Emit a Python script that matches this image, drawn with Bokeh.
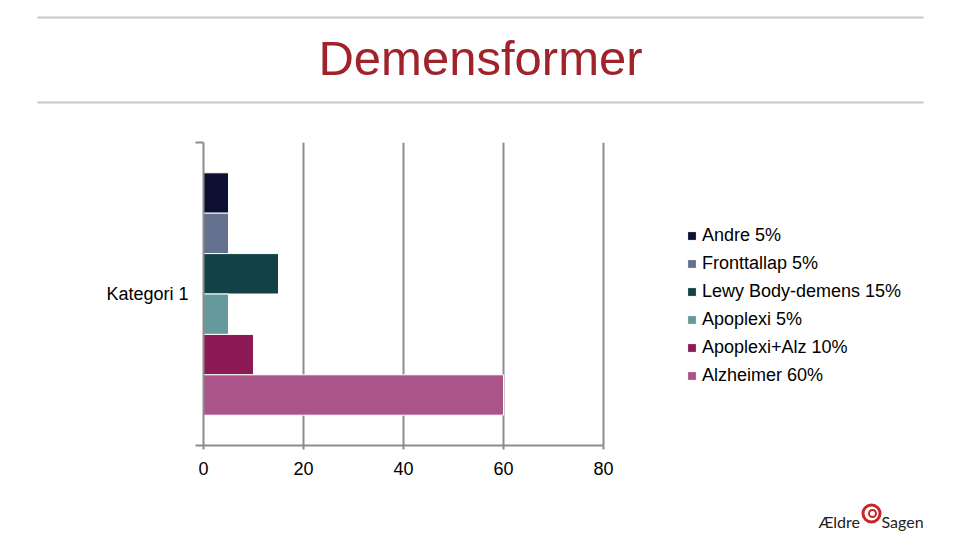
from bokeh.plotting import figure
from bokeh.models import Range1d, FixedTicker, Legend, LegendItem
from bokeh.core.properties import value
from bokeh.embed import file_html
from bokeh.resources import INLINE

# ---- data ----
title_text = "Demensformer"
category = "Kategori 1"
series = ["Andre 5%", "Fronttallap 5%", "Lewy Body-demens 15%",
          "Apoplexi 5%", "Apoplexi+Alz 10%", "Alzheimer 60%"]
values = [5, 5, 15, 5, 10, 60]
colors = ["#0E1033", "#66708F", "#124245", "#66999B", "#8B1A55", "#AA5489"]
x_ticks = [0, 20, 40, 60, 80]

FONT = "Liberation Sans"
W = 944

# ---- header ----
HH = 120
header = figure(width=W, height=HH, output_backend="svg", toolbar_location=None,
                x_range=Range1d(0, W), y_range=Range1d(HH, 0),
                min_border=0, outline_line_color=None)
header.axis.visible = False
header.grid.visible = False
header.segment(x0=[37, 37], y0=[17, 102], x1=[923, 923], y1=[17, 102],
               line_color="#c8c8c8", line_width=2)
header.text(x=[480], y=[57], text=[title_text], text_align="center",
            text_baseline="alphabetic", text_color="#A0222A",
            text_font=value(FONT), text_font_size="49px")

# ---- main chart ----
LEFT = 203
FRAME_W = 727  # frame spans axis area plus legend area
p = figure(width=W, height=370, output_backend="svg", toolbar_location=None,
           x_range=Range1d(0, x_ticks[-1] * FRAME_W / 400.0), y_range=Range1d(0, 1),
           min_border_left=LEFT, min_border_right=W - LEFT - FRAME_W,
           min_border_top=22, min_border_bottom=45,
           outline_line_color=None)

n = len(series)
h = 0.8 / n
items = []
for i, (name, v, c) in enumerate(zip(series, values, colors)):
    yc = 0.5 + ((n - 1) / 2 - i) * h
    r = p.hbar(y=[yc], left=[0], right=[v], height=h, fill_color=c,
               line_color="white", line_width=1)
    items.append(LegendItem(label=name, renderers=[r]))

legend = Legend(items=items, location=(483, 59), border_line_color=None,
                background_fill_alpha=0, padding=0, margin=0,
                glyph_width=11, glyph_height=11, label_standoff=5,
                label_text_font=FONT, label_text_font_size="18px",
                label_height=21, spacing=7, label_text_color="#000000")
p.add_layout(legend, "center")

xa = p.xaxis[0]
xa.ticker = FixedTicker(ticks=x_ticks)
xa.bounds = (x_ticks[0], x_ticks[-1])
xa.axis_line_color = "#8c8c8c"
xa.axis_line_width = 2
xa.major_tick_line_color = "#8c8c8c"
xa.major_tick_line_width = 2
xa.major_tick_in = 0
xa.major_tick_out = 4
xa.minor_tick_line_color = None
xa.major_label_standoff = 12
xa.major_label_text_font = FONT
xa.major_label_text_font_size = "18px"
xa.major_label_text_color = "#000000"

ya = p.yaxis[0]
ya.ticker = FixedTicker(ticks=[0.5], minor_ticks=[0, 1])
ya.major_label_overrides = {0.5: category}
ya.axis_line_color = "#8c8c8c"
ya.axis_line_width = 2
ya.major_tick_line_color = None
ya.major_tick_out = 0
ya.major_tick_in = 0
ya.minor_tick_line_color = "#8c8c8c"
ya.minor_tick_line_width = 2
ya.minor_tick_in = 0
ya.minor_tick_out = 8
ya.major_label_standoff = 7
ya.major_label_text_font = FONT
ya.major_label_text_font_size = "18px"
ya.major_label_text_color = "#000000"

p.xgrid.ticker = FixedTicker(ticks=x_ticks[1:])
p.xgrid.grid_line_color = "#8c8c8c"
p.xgrid.grid_line_width = 2
p.ygrid.visible = False

# ---- footer (logo) ----
FH = 42
footer = figure(width=W, height=FH, output_backend="svg", toolbar_location=None,
                x_range=Range1d(0, W), y_range=Range1d(FH, 0),
                min_border=0, outline_line_color=None)
footer.axis.visible = False
footer.grid.visible = False
footer.text(x=[818], y=[31], text=["Ældre"], text_baseline="alphabetic",
            text_color="#222222", text_font=value("Lato"), text_font_size="16px")
footer.scatter(x=[871], y=[23], size=17, marker="circle", fill_color="white",
               line_color="#C8262B", line_width=3)
footer.scatter(x=[872], y=[23], size=7, marker="circle", fill_color="white",
               line_color="#C8262B", line_width=2)
footer.text(x=[881], y=[31], text=["Sagen"], text_baseline="alphabetic",
            text_color="#222222", text_font=value("Lato"), text_font_size="16px")

open("out.html", "w").write(file_html([header, p, footer], INLINE))
